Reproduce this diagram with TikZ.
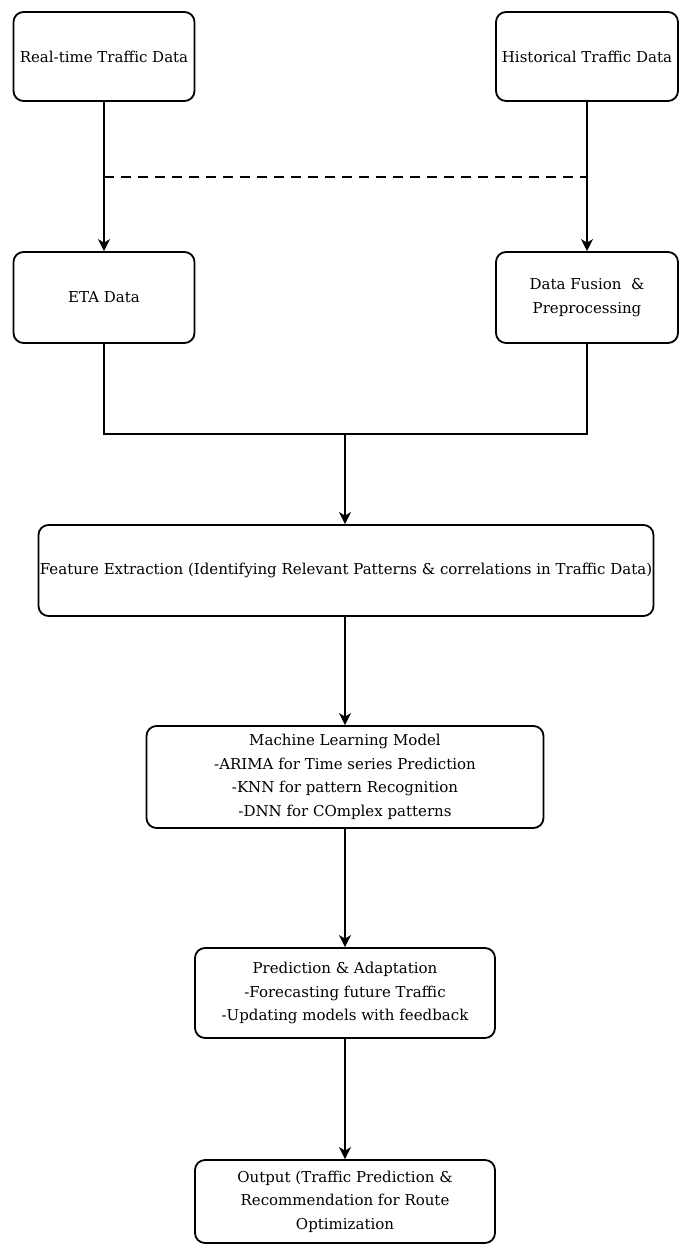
\documentclass[tikz,border=0pt]{standalone}
\usepackage{fontspec}
\setmainfont{DejaVu Serif}
\usetikzlibrary{arrows.meta}
\begin{document}
\begin{tikzpicture}[x=1pt,y=1pt,
  box/.style={draw=black, line width=1.8pt, rounded corners=10pt, fill=white,
    inner sep=0pt, align=center, font=\fontsize{15}{23.5}\selectfont},
  conn/.style={line width=1.8pt, draw=black},
  arr/.style={conn, -{Stealth[length=12pt,width=12pt,inset=3.5pt]}}]
\fill[white] (0,0) rectangle (683,-1246);
\useasboundingbox (0,0) rectangle (683,-1246);

\node[box, minimum width=181pt, minimum height=89pt] (rt) at (104,-56.5) {Real-time Traffic Data};
\node[box, minimum width=182pt, minimum height=89pt] (hist) at (587,-56.5) {Historical Traffic Data};
\node[box, minimum width=181pt, minimum height=91pt] (eta) at (104,-297.5) {ETA Data};
\node[box, minimum width=182pt, minimum height=91pt] (fus) at (587,-297.5) {Data Fusion \ \&\\Preprocessing};
\node[box, minimum width=615pt, minimum height=91pt] (feat) at (346,-570.5) {Feature Extraction (Identifying Relevant Patterns \& correlations in Traffic Data)};
\node[box, minimum width=397pt, minimum height=102pt] (ml) at (345,-777) {Machine Learning Model\\-ARIMA for Time series Prediction\\-KNN for pattern Recognition\\-DNN for COmplex patterns};
\node[box, minimum width=300pt, minimum height=90pt] (pred) at (345,-993) {Prediction \& Adaptation\\-Forecasting future Traffic\\-Updating models with feedback};
\node[box, minimum width=300pt, minimum height=83pt] (out) at (345,-1201.5) {Output (Traffic Prediction \&\\Recommendation for Route\\Optimization};

\coordinate (dl) at (104,-177);
\coordinate (dr) at (587,-177);
\coordinate (j) at (345,-434);

\draw[arr] (rt.south) -- (eta.north);
\draw[arr] (hist.south) -- (fus.north);
\draw[conn, dashed, dash pattern=on 10pt off 7pt] (dl) -- (dr);
\draw[conn] (eta.south) |- (j) -| (fus.south);
\draw[arr] (j) -- (j |- feat.north);
\draw[arr] (feat.south -| ml.north) -- (ml.north);
\draw[arr] (ml.south -| pred.north) -- (pred.north);
\draw[arr] (pred.south) -- (out.north);
\end{tikzpicture}
\end{document}
